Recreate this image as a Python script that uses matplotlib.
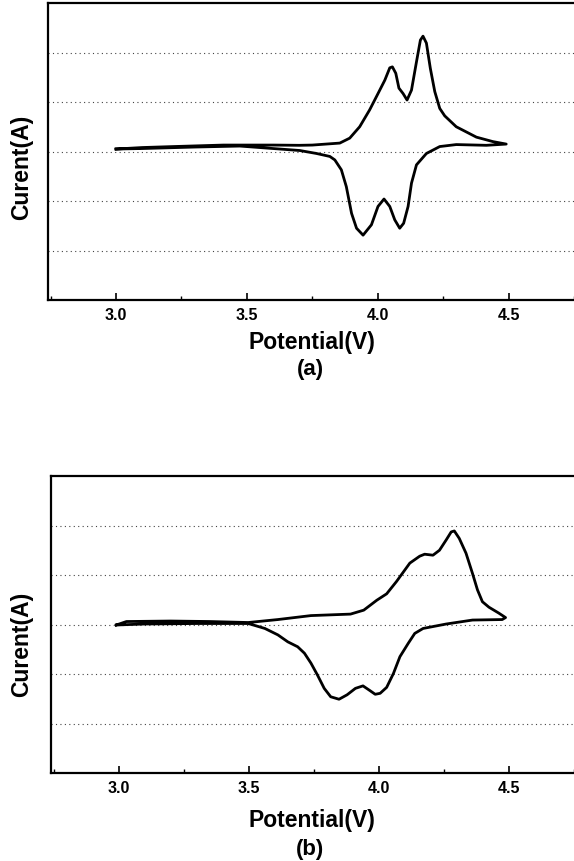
import matplotlib
matplotlib.use("Agg")
import matplotlib.pyplot as plt
from matplotlib.ticker import MultipleLocator, NullLocator, FormatStrFormatter

plt.rcParams["font.family"] = ["Liberation Sans", "DejaVu Sans"]
plt.rcParams["font.weight"] = "bold"

# Panel (a): anodic sweep 3.0 -> 4.5 V, then cathodic sweep back (current in arbitrary units)
a_up_v = [3.00, 3.10, 3.22, 3.41, 3.60, 3.70, 3.75, 3.855, 3.893, 3.931, 3.969, 4.001,
          4.027, 4.046, 4.056, 4.069, 4.081, 4.097, 4.112, 4.129, 4.148, 4.163, 4.173,
          4.186, 4.201, 4.218, 4.237, 4.256, 4.300, 4.377, 4.440, 4.491]
a_up_i = [3.05, 3.08, 3.10, 3.13, 3.13, 3.125, 3.13, 3.17, 3.27, 3.50, 3.84, 4.17,
          4.44, 4.69, 4.71, 4.58, 4.28, 4.17, 4.04, 4.24, 4.81, 5.25, 5.33,
          5.19, 4.68, 4.21, 3.87, 3.72, 3.50, 3.29, 3.20, 3.15]
a_down_v = [4.491, 4.415, 4.300, 4.237, 4.186, 4.148, 4.129, 4.116, 4.099, 4.084, 4.065,
            4.046, 4.024, 4.001, 3.976, 3.944, 3.919, 3.900, 3.880, 3.861, 3.836, 3.817,
            3.766, 3.702, 3.600, 3.473, 3.30, 3.10, 3.00]
a_down_i = [3.15, 3.125, 3.14, 3.10, 2.96, 2.73, 2.36, 1.89, 1.55, 1.45, 1.62,
            1.89, 2.04, 1.89, 1.52, 1.31, 1.45, 1.75, 2.29, 2.63, 2.83, 2.90,
            2.96, 3.02, 3.06, 3.11, 3.09, 3.06, 3.05]

# Panel (b)
b_up_v = [2.991, 3.03, 3.20, 3.35, 3.498, 3.612, 3.739, 3.891, 3.942, 3.992, 4.030, 4.068,
          4.119, 4.157, 4.176, 4.208, 4.233, 4.259, 4.278, 4.290, 4.309, 4.335, 4.360,
          4.379, 4.398, 4.423, 4.461, 4.487]
b_up_i = [2.99, 3.06, 3.07, 3.06, 3.04, 3.10, 3.18, 3.21, 3.29, 3.49, 3.62, 3.87,
          4.24, 4.38, 4.42, 4.40, 4.50, 4.71, 4.87, 4.89, 4.74, 4.44, 4.03,
          3.70, 3.46, 3.35, 3.23, 3.14]
b_down_v = [4.487, 4.474, 4.360, 4.259, 4.170, 4.138, 4.113, 4.081, 4.056, 4.030, 4.005,
            3.986, 3.967, 3.939, 3.910, 3.878, 3.847, 3.815, 3.790, 3.764, 3.739, 3.714,
            3.688, 3.650, 3.612, 3.562, 3.498, 3.30, 3.10, 2.991]
b_down_i = [3.14, 3.10, 3.09, 3.01, 2.92, 2.82, 2.62, 2.35, 2.01, 1.73, 1.61,
            1.59, 1.66, 1.76, 1.71, 1.58, 1.49, 1.54, 1.71, 1.98, 2.22, 2.42,
            2.55, 2.65, 2.79, 2.92, 3.02, 3.02, 3.01, 2.99]

panels = [
    ("(a)", a_up_v + a_down_v, a_up_i + a_down_i),
    ("(b)", b_up_v + b_down_v, b_up_i + b_down_i),
]

W, H = 574, 861
fig = plt.figure(figsize=(W / 100, H / 100), dpi=100)

# axes boxes in pixels: left, top, bottom
boxes = [(48, 3, 300), (51, 476, 773)]
label_y = [(167, 343, 370), (644, 821, 850)]

for (name, v, cur), (left, top, bottom), (ylab, xlab, tag) in zip(panels, boxes, label_y):
    ax = fig.add_axes([left / W, 1 - bottom / H, 1 - left / W, (bottom - top) / H])
    ax.plot(v, cur, color="black", lw=2.0, solid_joinstyle="round")
    ax.set_xlim(2.74, 4.75)
    ax.set_ylim(0, 6)
    for y in [1, 2, 3, 4, 5]:
        ax.axhline(y, color="#444444", lw=0.8, ls=(0, (1, 3)), zorder=0)
    ax.xaxis.set_major_locator(MultipleLocator(0.5))
    ax.xaxis.set_minor_locator(MultipleLocator(0.25))
    ax.xaxis.set_major_formatter(FormatStrFormatter("%.1f"))
    ax.yaxis.set_major_locator(NullLocator())
    ax.tick_params(axis="x", which="major", direction="in", length=5, width=1.2,
                   labelsize=11.5, pad=6)
    ax.tick_params(axis="x", which="minor", direction="in", length=3, width=1.0)
    for lbl in ax.get_xticklabels():
        lbl.set_fontweight("bold")
    for s in ["left", "bottom", "top"]:
        ax.spines[s].set_linewidth(1.6)
    ax.spines["right"].set_visible(False)

    fig.text(22 / W, 1 - ylab / H, "Curent(A)", rotation=90, ha="center", va="center",
             fontsize=16.5, fontweight="bold")
    fig.text(312 / W, 1 - xlab / H, "Potential(V)", ha="center", va="center",
             fontsize=16.5, fontweight="bold")
    fig.text(310 / W, 1 - tag / H, name, ha="center", va="center",
             fontsize=16, fontweight="bold")

fig.savefig("out.png", dpi=100)
